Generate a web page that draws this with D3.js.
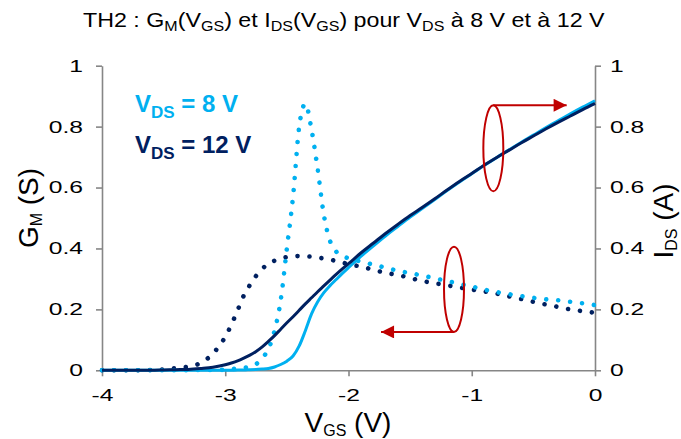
<!DOCTYPE html>
<html><head><meta charset="utf-8">
<script src="https://cdn.jsdelivr.net/npm/d3@7"></script>
<style>
body{margin:0;background:#fff}
svg{display:block}
text{font-family:"Liberation Sans",Arial,Helvetica,sans-serif;fill:#000}
</style>
</head><body>
<svg id="chart" width="681" height="439"></svg>
<script>
// ---------- data ----------
const vgs = [-4,-3.9,-3.8,-3.7,-3.6,-3.5,-3.4,-3.3,-3.2,-3.1,
  -3,-2.95,-2.9,-2.85,-2.8,-2.75,-2.7,-2.65,-2.6,-2.55,-2.5,-2.45,-2.4,-2.35,-2.3,-2.25,-2.2,-2.15,-2.1,-2.05,-2,
  -1.9,-1.8,-1.7,-1.6,-1.5,-1.4,-1.3,-1.2,-1.1,-1,-0.9,-0.8,-0.7,-0.6,-0.5,-0.4,-0.3,-0.2,-0.1,0];
const gm8 = [0,0,0,0,0,0,0,0,0.001,0.001,
  0.002,0.004,0.006,0.008,0.012,0.02,0.04,0.07,0.13,0.23,0.40,0.57,0.80,0.875,0.79,0.66,0.51,0.425,0.39,0.375,0.368,
  0.357,0.347,0.337,0.327,0.319,0.311,0.302,0.293,0.284,0.275,0.265,0.257,0.25,0.244,0.238,0.233,0.23,0.225,0.22,0.214];
const gm12 = [0,0,0,0,0.001,0.003,0.007,0.012,0.024,0.055,
  0.11,0.15,0.197,0.245,0.28,0.31,0.333,0.35,0.36,0.366,0.372,0.375,0.375,0.374,0.373,0.37,0.367,0.363,0.359,0.354,0.348,
  0.341,0.33,0.32,0.313,0.303,0.293,0.286,0.279,0.272,0.265,0.259,0.252,0.243,0.234,0.225,0.216,0.208,0.2,0.194,0.189];
const ids8 = [0,0,0,0,0,0,0,0,0,0,
  0,0,0.001,0.001,0.002,0.003,0.004,0.006,0.011,0.019,0.03,0.047,0.08,0.13,0.185,0.225,0.255,0.278,0.298,0.318,0.337,
  0.374,0.408,0.441,0.472,0.503,0.532,0.561,0.59,0.618,0.645,0.672,0.698,0.723,0.748,0.772,0.796,0.819,0.842,0.864,0.885];
const ids12 = [0,0,0,0,0,0.001,0.002,0.003,0.006,0.01,
  0.018,0.024,0.031,0.04,0.05,0.062,0.077,0.095,0.114,0.135,0.156,0.176,0.197,0.218,0.238,0.258,0.277,0.296,0.315,0.333,0.35,
  0.385,0.417,0.449,0.479,0.508,0.535,0.563,0.592,0.62,0.646,0.673,0.698,0.722,0.746,0.769,0.792,0.814,0.835,0.856,0.876];
const xTicks = [-4,-3,-2,-1,0];
const yTicks = [0,0.2,0.4,0.6,0.8,1];
const seriesLabels = ["8 V","12 V"];

// ---------- layout ----------
const svg = d3.select("#chart");
const x = d3.scaleLinear().domain([-4,0]).range([102,595]);
const y = d3.scaleLinear().domain([0,1]).range([370.3,65.7]);
const C8 = "#00B0F0", C12 = "#002060", RED = "#C00000", AX = "#868686";
const STRETCH = 1.45;

// axes
function styleAxis(g){
  g.selectAll("path,line").attr("stroke",AX).attr("stroke-width",1.6);
  g.selectAll("text").attr("font-size",17).attr("fill","#000")
    .style("font-family",'"Liberation Sans",Arial,sans-serif');
}
const gx = svg.append("g").attr("transform",`translate(0,${y(0)})`)
  .call(d3.axisBottom(x).tickValues(xTicks).tickFormat(d=>String(d)).tickSize(6).tickSizeOuter(0))
  .call(styleAxis);
gx.selectAll("text").attr("y",19).attr("transform",`scale(${STRETCH},1)`).attr("x",0);
const gl = svg.append("g").attr("transform",`translate(${x(-4)},0)`)
  .call(d3.axisLeft(y).tickValues(yTicks).tickFormat(d=>String(d)).tickSize(6).tickSizeOuter(0))
  .call(styleAxis);
gl.selectAll("text").attr("x",-19/STRETCH).attr("transform",`scale(${STRETCH},1)`);
const gr = svg.append("g").attr("transform",`translate(${x(0)},0)`)
  .call(d3.axisRight(y).tickValues(yTicks).tickFormat(d=>String(d)).tickSize(6).tickSizeOuter(0))
  .call(styleAxis);
gr.selectAll("text").attr("x",15/STRETCH).attr("transform",`scale(${STRETCH},1)`);

// series
const rows = vgs.map((v,i)=>({v,gm8:gm8[i],gm12:gm12[i],ids8:ids8[i],ids12:ids12[i]}));
const lineOf = key => d3.line().x(d=>x(d.v)).y(d=>y(d[key])).curve(d3.curveMonotoneX);
const plot = svg.append("g");
plot.append("path").datum(rows).attr("d",lineOf("gm12")).attr("fill","none")
  .attr("stroke",C12).attr("stroke-width",4.6).attr("stroke-linecap","round").attr("stroke-dasharray","0.001 12");
plot.append("path").datum(rows).attr("d",lineOf("gm8")).attr("fill","none")
  .attr("stroke",C8).attr("stroke-width",4.6).attr("stroke-linecap","round").attr("stroke-dasharray","0.001 12");
plot.append("path").datum(rows).attr("d",lineOf("ids8")).attr("fill","none")
  .attr("stroke",C8).attr("stroke-width",3);
plot.append("path").datum(rows).attr("d",lineOf("ids12")).attr("fill","none")
  .attr("stroke",C12).attr("stroke-width",3);

// annotations (data units)
const annoIds = {cx:-0.825, cy:0.729, dx:0.081, dy:0.141, to:-0.23};
const annoGm  = {cx:-1.144, cy:0.266, dx:0.081, dy:0.14, to:-1.736};
svg.append("defs").append("marker").attr("id","ah").attr("viewBox","0 0 10 10")
  .attr("refX",10).attr("refY",5).attr("markerWidth",7).attr("markerHeight",6.5)
  .attr("markerUnits","strokeWidth").attr("orient","auto")
  .append("path").attr("d","M0,0L10,5L0,10Z").attr("fill",RED);
function anno(a, up){
  const cx=x(a.cx), cy=y(a.cy), rx=x(a.cx+a.dx)-cx, ry=y(a.cy-a.dy)-cy;
  svg.append("ellipse").attr("cx",cx).attr("cy",cy).attr("rx",rx).attr("ry",ry)
    .attr("fill","none").attr("stroke",RED).attr("stroke-width",2);
  const yy = up ? cy-ry : cy+ry;
  svg.append("line").attr("x1",cx).attr("y1",yy).attr("x2",x(a.to)).attr("y2",yy)
    .attr("stroke",RED).attr("stroke-width",2).attr("marker-end","url(#ah)");
}
anno(annoIds,true);
anno(annoGm,false);

// text helper with subscripts
function rich(sel, parts, size, subSize, shift){
  const sh = shift==null ? size*0.22 : shift;
  parts.forEach(p=>{
    if(p.sub){
      sel.append("tspan").attr("font-size",subSize).attr("dy",sh).text(p.t);
    } else {
      const t = sel.append("tspan").attr("font-size",size).text(p.t);
      if(p.back) t.attr("dy",-sh);
    }
  });
}
const parse = s => { // "_x_" marks subscripts
  const out=[]; let prevSub=false;
  s.split("_").forEach((t,i)=>{ if(!t) {return;} const sub = i%2===1; out.push({t,sub,back:!sub&&prevSub}); prevSub=sub; });
  return out;
};

// title (fitted to the reference width)
const title = svg.append("text").attr("x",0).attr("y",27);
rich(title, parse("TH2 : G_M_(V_GS_) et I_DS_(V_GS_) pour V_DS_ à 8 V et à 12 V"), 21, 14.5, 4.5);
{
  const w = title.node().getComputedTextLength();
  const k = 522 / w;
  title.attr("transform",`translate(83,0) scale(${k},1)`);
}

// axis titles
const xt = svg.append("text").attr("x",348).attr("y",432).attr("text-anchor","middle");
rich(xt, parse("V_GS_ (V)"), 28, 16, 4);
const ylt = svg.append("text").attr("transform","translate(38,208) rotate(-90)").attr("text-anchor","middle");
rich(ylt, parse("G_M_ (S)"), 28, 16, 4);
const yrt = svg.append("text").attr("transform","translate(673,221) rotate(-90)").attr("text-anchor","middle");
rich(yrt, parse("I_DS_ (A)"), 28, 16, 4);

// legend
[[seriesLabels[0],C8,112],[seriesLabels[1],C12,153]].forEach(([lab,col,yy])=>{
  const t = svg.append("text").attr("x",135).attr("y",yy).attr("font-weight","bold").style("fill",col);
  rich(t, parse("V_DS_ = "+lab), 24, 17, 5.5);
});
</script>
</body></html>
